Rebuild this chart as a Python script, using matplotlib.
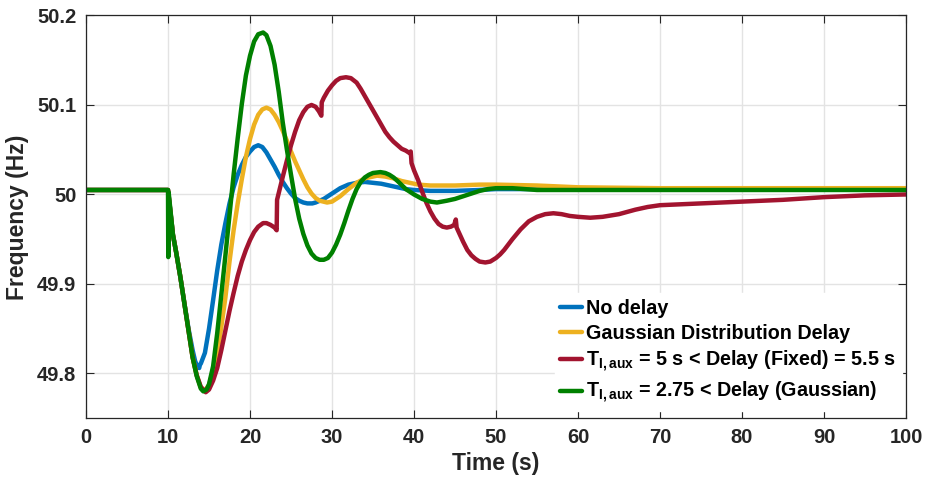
import matplotlib
matplotlib.use("Agg")
import matplotlib.pyplot as plt

# ---- data: frequency response (Hz) vs time (s) ----
t_nodelay = [0, 10.0, 10.6, 11.0, 11.5, 12.0, 12.5, 13.0, 13.3, 13.6, 13.8, 13.9, 14.0, 14.5,
             15.0, 15.5, 16.0, 16.5, 17.0, 17.5, 18.0, 18.5, 19.0, 19.5, 20.0, 20.5, 21.0,
             21.5, 22.0, 22.5, 23.0, 23.5, 24.0, 24.5, 25.0, 25.5, 26.0, 26.5, 27.0, 27.6,
             28.0, 28.5, 29.0, 29.5, 30.0, 31.0, 32.0, 33.0, 34.0, 35.0, 36.0, 37.0, 38.0,
             39.0, 40.0, 42.0, 45.0, 48.0, 50.0, 100.0]
f_nodelay = [50.005, 50.005, 49.955, 49.935, 49.908, 49.878, 49.850, 49.826, 49.814, 49.807,
             49.806, 49.810, 49.811, 49.823, 49.850, 49.882, 49.915, 49.944, 49.968, 49.990,
             50.008, 50.022, 50.033, 50.042, 50.048, 50.053, 50.055, 50.053, 50.047, 50.039,
             50.031, 50.022, 50.014, 50.007, 50.001, 49.996, 49.993, 49.991, 49.990, 49.990,
             49.991, 49.993, 49.995, 49.998, 50.001, 50.007, 50.011, 50.013, 50.014, 50.013,
             50.012, 50.010, 50.008, 50.006, 50.005, 50.004, 50.004, 50.005, 50.006, 50.006]

t_gauss = [0, 10.0, 10.6, 11.0, 11.5, 12.0, 12.5, 13.0, 13.5, 14.0, 14.5, 15.0, 15.5, 16.0,
           16.5, 17.0, 17.5, 18.0, 18.5, 19.0, 19.5, 20.0, 20.5, 21.0, 21.5, 22.0, 22.5,
           23.0, 23.5, 24.0, 24.5, 25.0, 25.5, 26.0, 26.5, 27.0, 27.5, 28.0, 28.5, 29.4,
           30.0, 30.5, 31.0, 31.5, 32.0, 33.0, 34.0, 35.0, 35.5, 36.5, 37.5, 38.5, 39.5,
           40.5, 42.0, 45.0, 48.0, 50.0, 55.0, 60.0, 70.0, 100.0]
f_gauss = [50.005, 50.005, 49.955, 49.935, 49.908, 49.878, 49.848, 49.818, 49.798, 49.784,
           49.781, 49.787, 49.803, 49.822, 49.852, 49.885, 49.925, 49.960, 49.990, 50.017,
           50.042, 50.062, 50.078, 50.089, 50.095, 50.097, 50.095, 50.089, 50.081, 50.071,
           50.060, 50.048, 50.037, 50.027, 50.017, 50.008, 50.001, 49.996, 49.993, 49.991,
           49.992, 49.995, 49.998, 50.002, 50.006, 50.013, 50.018, 50.020, 50.021, 50.020,
           50.018, 50.015, 50.013, 50.011, 50.010, 50.010, 50.011, 50.011, 50.010, 50.008,
           50.007, 50.007]

t_fixed = [0, 10.0, 10.6, 11.0, 11.5, 12.0, 12.5, 13.0, 13.5, 14.0, 14.6, 15.0, 15.5, 16.0,
           16.5, 17.0, 17.5, 18.0, 18.5, 19.0, 19.5, 20.0, 20.5, 21.0, 21.6, 22.0, 22.5,
           23.0, 23.25, 23.3, 24.0, 24.5, 25.0, 25.5, 26.0, 26.5, 27.0, 27.5, 28.0, 28.4,
           28.7, 28.75, 29.0, 29.5, 30.0, 30.5, 31.0, 31.7, 32.3, 33.0, 33.5, 34.0, 34.5,
           35.0, 35.5, 36.0, 36.5, 37.0, 37.5, 38.0, 38.5, 39.0, 39.5, 39.6, 39.7, 40.0,
           40.5, 41.0, 41.5, 42.0, 42.5, 43.0, 43.5, 44.0, 44.5, 44.9, 45.1, 45.2, 45.5,
           46.0, 46.5, 47.0, 47.5, 48.0, 48.7, 49.3, 50.0, 50.5, 51.0, 52.0, 53.0, 54.0,
           55.0, 56.0, 57.0, 58.0, 59.0, 60.0, 61.5, 63.0, 65.0, 67.0, 68.5, 70.0, 75.0,
           80.0, 85.0, 90.0, 95.0, 100.0]
f_fixed = [50.005, 50.005, 49.955, 49.935, 49.908, 49.878, 49.848, 49.818, 49.798, 49.785,
           49.779, 49.782, 49.792, 49.806, 49.826, 49.848, 49.870, 49.890, 49.909, 49.925,
           49.938, 49.949, 49.958, 49.964, 49.968, 49.968, 49.966, 49.963, 49.960, 49.994,
           50.020, 50.038, 50.055, 50.070, 50.083, 50.092, 50.098, 50.100, 50.098, 50.093,
           50.088, 50.103, 50.108, 50.116, 50.122, 50.127, 50.130, 50.131, 50.130, 50.125,
           50.118, 50.110, 50.102, 50.094, 50.086, 50.078, 50.070, 50.064, 50.059, 50.055,
           50.051, 50.049, 50.046, 50.048, 50.035, 50.027, 50.016, 50.003, 49.991, 49.981,
           49.973, 49.967, 49.964, 49.963, 49.964, 49.966, 49.972, 49.963, 49.957, 49.947,
           49.938, 49.932, 49.928, 49.925, 49.924, 49.925, 49.929, 49.933, 49.938, 49.950,
           49.961, 49.970, 49.975, 49.978, 49.979, 49.978, 49.976, 49.975, 49.974, 49.975,
           49.978, 49.983, 49.986, 49.988, 49.990, 49.992, 49.994, 49.997, 49.999, 50.000]

t_gausaux = [0, 10.0, 10.03, 10.08, 10.6, 11.0, 11.5, 12.0, 12.5, 13.0, 13.5, 14.0, 14.3,
             14.7, 15.0, 15.5, 16.0, 16.5, 17.0, 17.5, 18.0, 18.5, 19.0, 19.5, 20.0, 20.5,
             21.0, 21.6, 22.0, 22.5, 23.0, 23.5, 24.0, 24.5, 25.0, 25.5, 26.0, 26.5, 27.0,
             27.5, 28.0, 28.5, 29.0, 29.5, 30.0, 30.5, 31.0, 31.5, 32.0, 32.5, 33.0, 33.5,
             34.0, 34.5, 35.0, 35.9, 36.5, 37.0, 37.5, 38.0, 39.0, 40.0, 41.0, 42.0, 42.8,
             44.0, 45.0, 46.0, 47.0, 48.0, 49.0, 50.0, 52.0, 55.0, 60.0, 100.0]
f_gausaux = [50.005, 50.005, 49.930, 50.002, 49.955, 49.935, 49.908, 49.878, 49.848, 49.818,
             49.797, 49.783, 49.780, 49.782, 49.788, 49.808, 49.845, 49.888, 49.932, 49.977,
             50.022, 50.063, 50.101, 50.133, 50.155, 50.171, 50.179, 50.181, 50.178, 50.166,
             50.145, 50.115, 50.080, 50.050, 50.022, 49.995, 49.973, 49.956, 49.943, 49.934,
             49.929, 49.927, 49.927, 49.929, 49.935, 49.944, 49.955, 49.968, 49.982, 49.995,
             50.006, 50.014, 50.019, 50.022, 50.024, 50.025, 50.024, 50.022, 50.019, 50.015,
             50.006, 50.000, 49.995, 49.992, 49.991, 49.993, 49.995, 49.998, 50.001, 50.004,
             50.006, 50.007, 50.007, 50.005, 50.005, 50.005]

labels = [
    "No delay",
    "Gaussian Distribution Delay",
    r"$\mathbf{T_{I,aux}}$ = 5 s < Delay (Fixed) = 5.5 s",
    r"$\mathbf{T_{I,aux}}$ = 2.75 < Delay (Gaussian)",
]
colors = ["#0072BD", "#EDB120", "#A2142F", "#008000"]

x_ticks = [0, 10, 20, 30, 40, 50, 60, 70, 80, 90, 100]
y_ticks = [49.8, 49.9, 50.0, 50.1, 50.2]
y_ticklabels = ["49.8", "49.9", "50", "50.1", "50.2"]

# ---- styling ----
txt = "#262626"
plt.rcParams["font.family"] = ["Liberation Sans", "DejaVu Sans"]
plt.rcParams["font.weight"] = "bold"
plt.rcParams["mathtext.fontset"] = "custom"
plt.rcParams["mathtext.rm"] = "Liberation Sans:bold"
plt.rcParams["mathtext.bf"] = "Liberation Sans:bold"
plt.rcParams["mathtext.it"] = "Liberation Sans:bold"

fig = plt.figure(figsize=(9.29, 4.84), dpi=100)
ax = fig.add_axes([0.0926, 0.136, 0.8826, 0.832])

series = [(t_nodelay, f_nodelay), (t_gauss, f_gauss), (t_fixed, f_fixed), (t_gausaux, f_gausaux)]
for (t, f), c, lab in zip(series, colors, labels):
    ax.plot(t, f, color=c, lw=3.2, label=lab, solid_joinstyle="round", solid_capstyle="round")

ax.set_xlim(0, 100)
ax.set_ylim(49.75, 50.2)
ax.set_xticks(x_ticks)
ax.set_yticks(y_ticks)
ax.set_yticklabels(y_ticklabels)
ax.grid(True, color="#e3e3e3", lw=1.0)
ax.set_axisbelow(True)
ax.tick_params(direction="in", top=True, right=True, length=6, width=0.8,
               colors=txt, labelsize=14.5, pad=7)
for lbl in ax.get_xticklabels() + ax.get_yticklabels():
    lbl.set_fontweight("bold")
for s in ax.spines.values():
    s.set_color(txt)
    s.set_linewidth(0.9)

ax.set_xlabel("Time (s)", fontsize=16.5, fontweight="bold", color=txt, labelpad=4)
ax.set_ylabel("Frequency (Hz)", fontsize=16.5, fontweight="bold", color=txt, labelpad=6)

leg = ax.legend(loc="lower right", bbox_to_anchor=(0.995, 0.0175), frameon=True,
                fancybox=False, framealpha=1, edgecolor="white", fontsize=14.2,
                handlelength=1.1, handletextpad=0.2, borderpad=0.3, labelspacing=0.3,
                borderaxespad=0.0)
for text in leg.get_texts():
    text.set_color("black")
    text.set_fontweight("bold")
for line in leg.get_lines():
    line.set_linewidth(3.2)

fig.savefig("out.png", dpi=100)
